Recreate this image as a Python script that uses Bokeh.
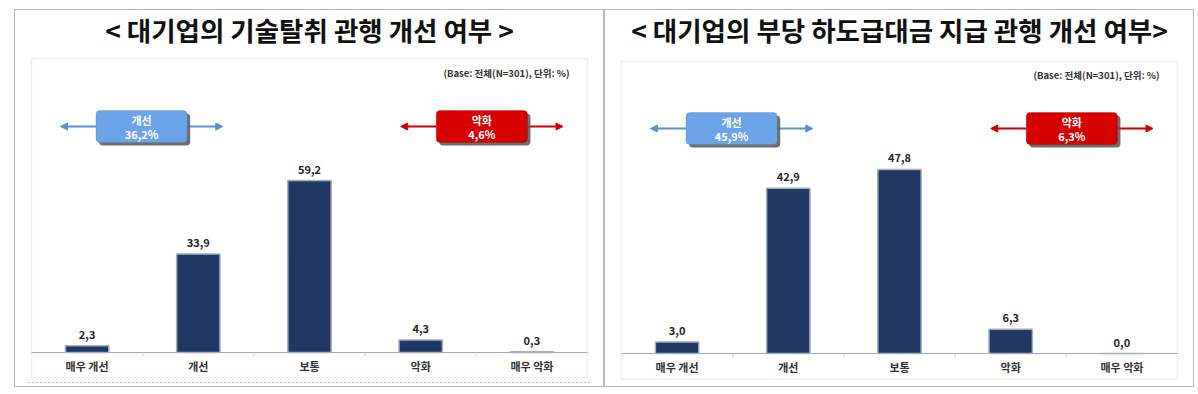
from bokeh.plotting import figure
from bokeh.models import (Range1d, FactorRange, ColumnDataSource, BoxAnnotation, Arrow,
                          NormalHead, Label, LabelSet, Spacer)
from bokeh.layouts import row, column
from bokeh.core.properties import value
from bokeh.embed import file_html
from bokeh.resources import INLINE

categories = ["매우 개선", "개선", "보통", "악화", "매우 악화"]
tech_values = [2.3, 33.9, 59.2, 4.3, 0.3]
pay_values = [3.0, 42.9, 47.8, 6.3, 0.0]
titles = ["< 대기업의 기술탈취 관행 개선 여부 >",
          "< 대기업의 부당 하도급대금 지급 관행 개선 여부>"]
base_note = "(Base: 전체(N=301), 단위: %)"
callout_names = ["개선", "악화"]
improve_totals = [36.2, 45.9]
worsen_totals = [4.6, 6.3]

FONT = "Noto Sans CJK KR"
BAR = "#1f3864"
FIG_TOP, FIG_BOTTOM = 9, 387          # page pixel rows of the figure canvas
SLOT_PX = 111.2


def fmt(v):
    return f"{v:.1f}".replace(".", ",")


def make_panel(title, vals, improve, worsen, base_px, ppu, box_top_px, box_bot_px,
               note_px, call_px, pink=False):
    def ypx(px):
        return (base_px - px) / ppu

    p = figure(width=590, height=378,
               x_range=FactorRange(factors=categories, range_padding=0.0612,
                                   range_padding_units="percent", factor_padding=0),
               y_range=Range1d(ypx(FIG_BOTTOM), ypx(FIG_TOP)),
               output_backend="svg", toolbar_location=None, title_location=None,
               min_border_left=0, min_border_right=0,
               min_border_top=0, min_border_bottom=0)
    p.background_fill_color = "white"
    p.border_fill_color = "white"
    p.outline_line_color = "#6f6f6f"
    p.outline_line_width = 1
    p.outline_line_dash = "1 1"
    p.xgrid.visible = False
    p.ygrid.visible = False
    p.yaxis.visible = False

    # inner chart box
    p.add_layout(BoxAnnotation(left=0, right=5, bottom=ypx(box_bot_px), top=ypx(box_top_px),
                               fill_alpha=0, line_color="#cbcbcb", line_width=1.5,
                               level="underlay"))
    if pink:
        p.segment(x0=[-0.03], x1=[5.03], y0=[ypx(382)], y1=[ypx(382)],
                  line_color="#f0a0ae", line_width=1, line_dash="2 2")

    # title
    p.add_layout(Label(x=2.5, y=ypx(29), text=title, text_align="center",
                       text_baseline="middle", text_font=FONT, text_font_style="bold",
                       text_font_size="26.5px", text_color="#111111"))

    ax = p.xaxis[0]
    ax.fixed_location = 0
    ax.axis_line_color = None
    ax.major_tick_line_color = None
    ax.minor_tick_line_color = None
    ax.major_label_text_font = FONT
    ax.major_label_text_font_style = "bold"
    ax.major_label_text_font_size = "11px"
    ax.major_label_text_color = "#333333"
    ax.major_label_standoff = -1

    # baseline across the inner box and category separators
    p.segment(x0=[0], x1=[5], y0=[0], y1=[0], line_color="#a8a8a8", line_width=1.2)
    seps = [1.0, 2.0, 3.0, 4.0]
    p.segment(x0=seps, x1=seps, y0=[0] * 4, y1=[-4 / ppu] * 4,
              line_color="#cfcfcf", line_width=1)

    src = ColumnDataSource(dict(cat=categories, val=vals, lbl=[fmt(v) for v in vals]))
    p.vbar(x="cat", top="val", width=0.39, source=src,
           fill_color=BAR, line_color="#a4aebd", line_width=1.5)
    p.add_layout(LabelSet(x="cat", y="val", text="lbl", source=src, y_offset=7,
                          text_align="center", text_baseline="bottom",
                          text_font=value(FONT), text_font_style="bold",
                          text_font_size="11px", text_color="#262626"))

    # note
    p.add_layout(Label(x=5 - 18 / SLOT_PX, y=ypx(note_px),
                       text=base_note, text_align="right", text_baseline="middle",
                       text_font=FONT, text_font_style="bold", text_font_size="9.5px",
                       text_color="#333333"))

    # callouts
    yc = ypx(call_px)
    h = 16 / ppu
    dx = 3 / SLOT_PX
    dy = 3 / ppu
    specs = [
        (0.58, 1.40, 0.26, 1.72, "#6aa3e6", "#4a82c4", "#5b8fd0", callout_names[0], improve),
        (3.64, 4.46, 3.32, 4.78, "#d60000", "#a00000", "#cc0000", callout_names[1], worsen),
    ]
    for x0, x1, a0, a1, fill, edge, acol, name, tot in specs:
        for xs, xe in ((x0, a0), (x1, a1)):
            p.add_layout(Arrow(x_start=xs, y_start=yc, x_end=xe, y_end=yc,
                               line_color=acol, line_width=2,
                               end=NormalHead(size=7, fill_color=acol, line_color=acol)))
        p.add_layout(BoxAnnotation(left=x0 + dx, right=x1 + dx, top=yc + h - dy,
                                   bottom=yc - h - dy,
                                   fill_color="#555555", fill_alpha=0.85,
                                   line_color=None, border_radius=4))
        p.add_layout(BoxAnnotation(left=x0, right=x1, top=yc + h, bottom=yc - h,
                                   fill_color=fill, fill_alpha=1,
                                   line_color=edge, line_width=1, border_radius=4))
        xc = (x0 + x1) / 2
        for txt, yy in ((name, yc + 7 / ppu), (fmt(tot) + "%", yc - 7 / ppu)):
            p.add_layout(Label(x=xc, y=yy, text=txt,
                               text_align="center", text_baseline="middle",
                               text_font=FONT, text_font_style="bold",
                               text_font_size="11px", text_color="white"))
    return p


left = make_panel(titles[0], tech_values, improve_totals[0], worsen_totals[0],
                  352, 2.905, 58, 377, 72, 126, pink=True)
right = make_panel(titles[1], pay_values, improve_totals[1], worsen_totals[1],
                   353, 3.85, 61, 379, 74, 128)

layout = column(Spacer(width=10, height=9), row(Spacer(width=14, height=10), left, right))
open("out.html", "w").write(file_html(layout, INLINE))
